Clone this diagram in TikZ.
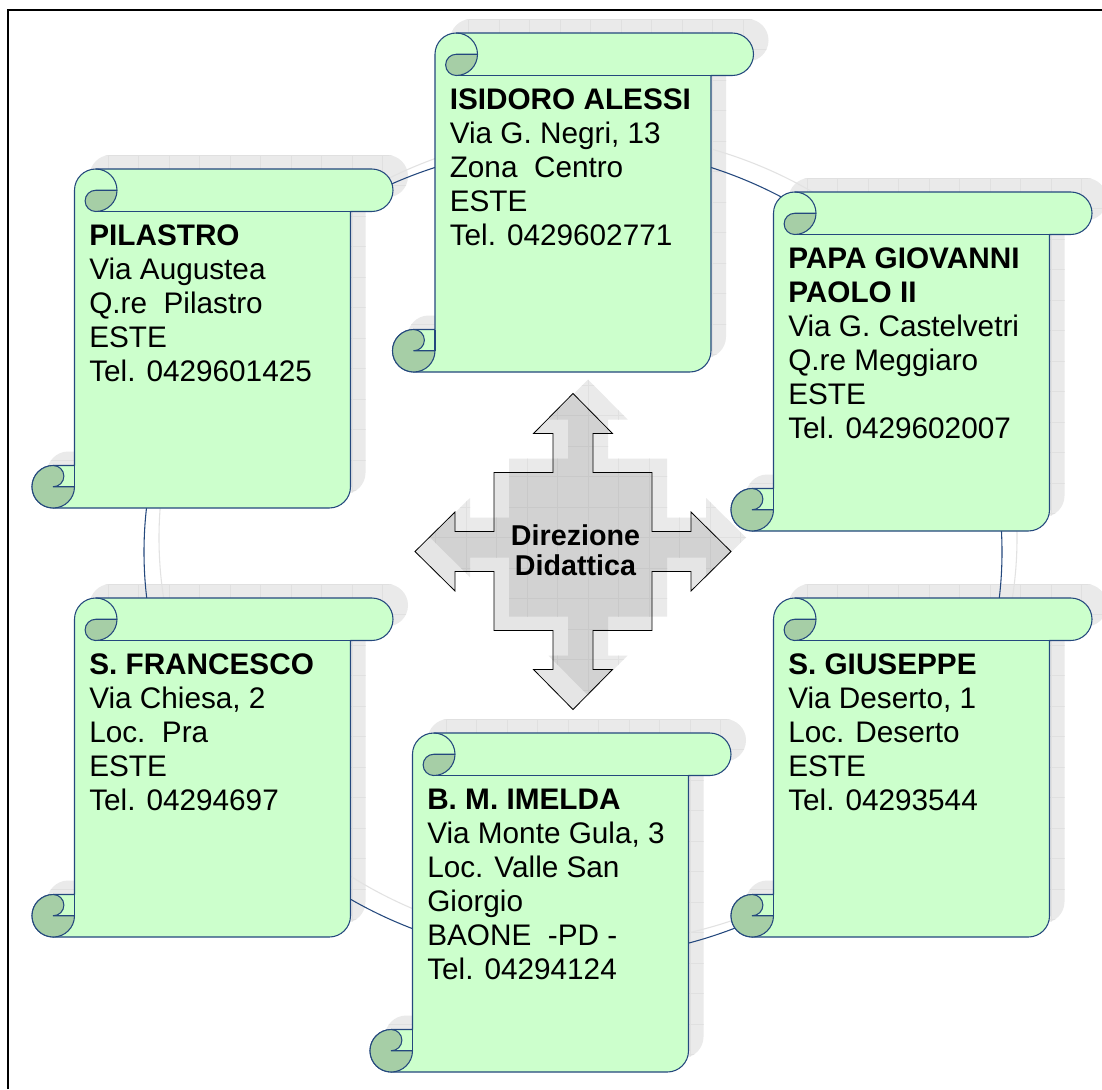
\documentclass[tikz,border=0pt]{standalone}
\usepackage{fontspec}
\setmainfont{Liberation Sans}
\definecolor{scrollgreen}{RGB}{204,255,204}
\definecolor{curlgreen}{RGB}{166,206,166}
\definecolor{edgeblue}{RGB}{36,72,125}
\definecolor{shadowgray}{RGB}{234,234,234}
\definecolor{gridgray}{RGB}{224,224,224}
\definecolor{ringshadow}{RGB}{226,226,226}
\newcommand\ScrollPath{(42.5,-296.5) -- (42.5,-21.25) arc[start angle=180,end angle=90,radius=21.25] -- (339.75,0) arc[start angle=90,end angle=-90,radius=21.25] -- (318.5,-42.5) -- (318.5,-317.75) arc[start angle=0,end angle=-90,radius=21.25] -- (21.25,-339) arc[start angle=270,end angle=90,radius=21.25] -- cycle}
\newcommand\ArrowPath{(0,158) -- (39.5,118) -- (20,118) -- (20,79) -- (79,79) -- (79,20) -- (118,20) -- (118,39.5) -- (158,0) -- (118,-39.5) -- (118,-20) -- (79,-20) -- (79,-79) -- (20,-79) -- (20,-118) -- (39.5,-118) -- (0,-158) -- (-39.5,-118) -- (-20,-118) -- (-20,-79) -- (-79,-79) -- (-79,-20) -- (-118,-20) -- (-118,-39.5) -- (-158,0) -- (-118,39.5) -- (-118,20) -- (-79,20) -- (-79,79) -- (-20,79) -- (-20,118) -- (-39.5,118) -- cycle}
\newcommand\ScrollShadow[2]{%
  \begin{scope}[shift={({#1+15},{-#2+14})}]
    \fill[shadowgray] \ScrollPath;
    \begin{scope}
      \clip \ScrollPath;
      \draw[gridgray, line width=0.4pt, step=30.5] (-31,-400) grid (400,31);
    \end{scope}
  \end{scope}}
\newcommand\DrawScroll[2]{%
  \begin{scope}[shift={(#1,-#2)}]
    \filldraw[scrollbody] \ScrollPath;
    \draw[scrolledge] (63.75,-42.5) -- (318.5,-42.5);
    \draw[scrolledge] (63.75,0) arc[start angle=90,end angle=0,radius=21.25];
    \filldraw[scrollcurl] (63.75,-21.25) -- (85,-21.25) arc[start angle=0,end angle=-90,radius=21.25] arc[start angle=270,end angle=90,radius=10.625] -- cycle;
    \filldraw[scrollcurl] (21.25,-317.75) -- (42.5,-317.75) arc[start angle=0,end angle=-270,radius=21.25] arc[start angle=90,end angle=-90,radius=10.625] -- cycle;
    \draw[scrolledge] (42.5,-296.5) -- (42.5,-317.75);
  \end{scope}}
\newcommand\ScrollText[4]{%
  \foreach \sline [count=\i] in {#4}{%
    \node[scrolltxt] (#1-\i) at ({#2+57},{-(#3+76.5+34*(\i-1))}) {\sline};}}
\begin{document}
\begin{tikzpicture}[x=0.75pt,y=0.75pt,
  scrollbody/.style={fill=scrollgreen, draw=edgeblue, line width=0.8pt, line join=round},
  scrolledge/.style={draw=edgeblue, line width=0.8pt},
  scrollcurl/.style={fill=curlgreen, draw=edgeblue, line width=0.8pt, line join=round},
  scrolltxt/.style={anchor=base west, inner sep=0pt, font=\fontsize{22.3}{26}\selectfont},
  arrowtxt/.style={anchor=base, inner sep=0pt, font=\bfseries\fontsize{21.5}{24}\selectfont}]
\useasboundingbox (0,0) rectangle (1102,-1089);
\fill[white] (0,0) rectangle (1102,-1089);
\draw[black, line width=0.8pt] (8,-1089) -- (8,-10) -- (1102,-10);

% shadows
\ScrollShadow{392.5}{33}
\ScrollShadow{32}{169}
\ScrollShadow{731}{192}
\ScrollShadow{32}{598}
\ScrollShadow{731}{598}
\ScrollShadow{370}{733}
\begin{scope}[shift={(588,-537.5)}]
  \fill[shadowgray] \ArrowPath;
  \begin{scope}
    \clip \ArrowPath;
    \draw[gridgray, line width=0.4pt, step=30.5] (-170,-170) grid (170,170);
  \end{scope}
\end{scope}

% ring
\draw[ringshadow, line width=0.8pt] (588,-538) ellipse[x radius=429, y radius=406];
\draw[edgeblue, line width=0.8pt] (573,-552) ellipse[x radius=429, y radius=406];

% scrolls
\DrawScroll{392.5}{33}
\DrawScroll{32}{169}
\DrawScroll{731}{192}
\DrawScroll{32}{598}
\DrawScroll{731}{598}
\DrawScroll{370}{733}

% central arrow
\begin{scope}[shift={(573,-551.5)}]
  \filldraw[fill=black, fill opacity=0.1, draw=black, line width=0.6pt, line join=miter] \ArrowPath;
\end{scope}
\node[arrowtxt] (dir1) at (575.5,-545) {Direzione};
\node[arrowtxt] (dir2) at (575.5,-575) {Didattica};

% texts
\ScrollText{isidoro}{392.5}{33}{\textbf{ISIDORO ALESSI}, {Via G. Negri, 13}, Zona~~Centro, ESTE, Tel. 0429602771}
\ScrollText{pilastro}{32}{169}{\textbf{PILASTRO}, Via Augustea, Q.re~~Pilastro, ESTE, Tel. 0429601425}
\ScrollText{papa}{731}{192}{\textbf{PAPA GIOVANNI}, \textbf{PAOLO II}, Via G. Castelvetri, Q.re Meggiaro, ESTE, Tel. 0429602007}
\ScrollText{francesco}{32}{598}{\textbf{S. FRANCESCO}, {Via Chiesa, 2}, Loc.~~Pra, ESTE, Tel. 04294697}
\ScrollText{giuseppe}{731}{598}{\textbf{S. GIUSEPPE}, {Via Deserto, 1}, Loc. Deserto, ESTE, Tel. 04293544}
\ScrollText{imelda}{370}{733}{\textbf{B. M. IMELDA}, {Via Monte Gula, 3}, Loc. Valle San, Giorgio, BAONE~~-PD -, Tel. 04294124}
\end{tikzpicture}
\end{document}
